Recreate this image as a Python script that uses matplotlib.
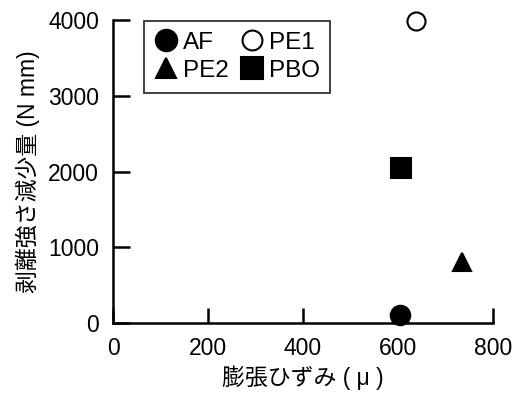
import matplotlib
matplotlib.use("Agg")
import matplotlib.pyplot as plt

plt.rcParams['font.family'] = ['Liberation Sans', 'Noto Sans CJK JP', 'DejaVu Sans']

labels = ["AF", "PE2", "PE1", "PBO"]
x_vals = [605, 735, 637, 607]
y_vals = [100, 800, 3990, 2050]
markers = ["o", "^", "o", "s"]
faces = ["black", "black", "white", "black"]
sizes = [14, 13, 13, 14]

fig = plt.figure(figsize=(5.17, 3.96), dpi=100)
ax = fig.add_axes([0.2186, 0.1843, 0.7350, 0.7652])

for lab, xv, yv, m, fc, s in zip(labels, x_vals, y_vals, markers, faces, sizes):
    ax.plot([xv], [yv], linestyle="none", marker=m, markersize=s,
            markerfacecolor=fc, markeredgecolor="black", markeredgewidth=1.5,
            label=lab, clip_on=False, zorder=5)

ax.set_xlim(0, 800)
ax.set_ylim(0, 4000)
ax.set_xticks([0, 200, 400, 600, 800])
ax.set_yticks([0, 1000, 2000, 3000, 4000])
for sp in ["top", "right"]:
    ax.spines[sp].set_visible(False)
for sp in ["left", "bottom"]:
    ax.spines[sp].set_linewidth(1.8)
ax.tick_params(direction="in", width=1.8, labelsize=16.5)
ax.tick_params(axis="y", length=12, pad=10)
ax.tick_params(axis="x", length=11, pad=10)

ax.set_xlabel("膨張ひずみ ( μ )", fontsize=16.5, labelpad=4)
ax.set_ylabel("剥離強さ減少量 (N mm)", fontsize=16.5, labelpad=6)

leg = ax.legend(ncol=2, loc="upper left", bbox_to_anchor=(0.081, 0.997),
                frameon=True, fancybox=False, edgecolor="black",
                fontsize=17.5, handletextpad=0.2, columnspacing=0.5,
                labelspacing=0.25, borderpad=0.45, handlelength=0.95,
                borderaxespad=0, markerscale=1.1)
leg.get_frame().set_linewidth(1.3)

fig.savefig("out.png", dpi=100)
